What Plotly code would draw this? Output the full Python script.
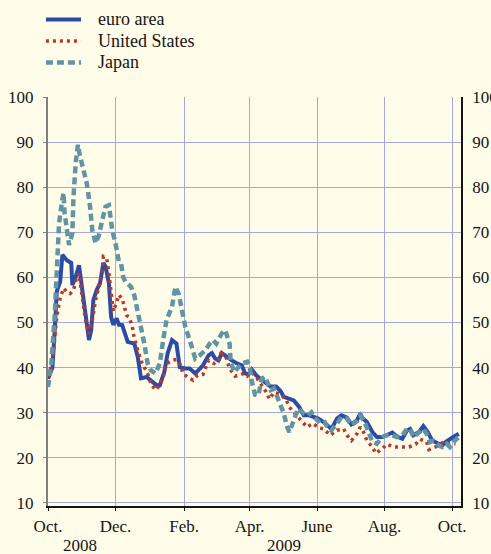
import pandas as pd
import plotly.graph_objects as go

START = "2008-10-01"

# days since 1 Oct 2008 and index values
euro_days = [0, 4, 6, 8, 11, 13, 17, 21, 22, 25, 28, 30, 32, 35, 37, 39, 41, 44, 47, 50, 52, 55, 57, 59, 62, 64, 67,
             72, 78, 81, 84, 89, 93, 98, 101, 105, 108, 112, 116, 119, 124, 128, 133, 137, 140, 145, 148, 151, 154,
             157, 161, 166, 170, 175, 178, 181, 184, 188, 193, 197, 201, 206, 210, 213, 218, 222, 227, 231, 236,
             240, 244, 249, 253, 256, 261, 265, 270, 274, 279, 282, 284, 288, 293, 297, 302, 306, 311, 315, 320,
             324, 327, 330, 335, 339, 343, 347, 352, 356, 359, 363, 366, 371]
euro_vals = [37.5, 40.0, 48.0, 57.0, 59.0, 65.0, 63.8, 63.2, 58.3, 60.1, 62.7, 58.7, 54.3, 49.0, 46.1, 48.3, 55.0,
             57.2, 58.7, 63.2, 62.4, 58.7, 51.2, 49.5, 50.9, 49.5, 49.4, 45.7, 45.3, 42.4, 37.6, 37.9, 37.2, 36.1,
             36.1, 39.0, 43.1, 46.1, 45.3, 40.1, 39.8, 39.8, 38.7, 39.8, 40.5, 42.7, 43.2, 42.0, 41.6, 43.2, 42.4,
             41.6, 41.0, 40.5, 38.7, 38.5, 39.6, 38.3, 37.3, 36.4, 35.8, 35.8, 34.8, 33.5, 33.1, 32.7, 31.2, 29.4,
             29.4, 29.0, 28.7, 27.9, 27.0, 26.4, 28.7, 29.4, 28.9, 27.4, 28.3, 29.8, 28.8, 27.9, 25.7, 24.6, 24.6,
             25.1, 25.6, 24.7, 24.2, 26.0, 26.4, 25.0, 25.7, 27.0, 25.7, 23.8, 23.3, 22.7, 23.5, 24.0, 24.6, 25.3]

us_days = [0, 5, 8, 11, 14, 17, 20, 23, 26, 28, 29, 30, 32, 34, 37, 40, 43, 46, 49, 50, 53, 55, 57, 59, 62, 64,
           67, 69, 71, 73, 76, 77, 81, 85, 90, 93, 97, 101, 104, 107, 112, 116, 119, 122, 126, 131, 135, 140, 143,
           145, 150, 154, 156, 160, 164, 169, 172, 177, 180, 184, 188, 193, 197, 200, 204, 210, 215, 218, 222,
           227, 230, 234, 239, 245, 249, 255, 261, 267, 270, 274, 279, 282, 285, 288, 293, 296, 302, 306, 312,
           320, 326, 332, 336, 342, 344, 350, 356, 362, 368]
us_vals = [36.4, 43.8, 51.5, 55.4, 57.6, 56.8, 56.4, 57.2, 60.1, 60.9, 59.0, 57.2, 53.5, 50.5, 47.5, 50.5, 55.0,
           57.9, 60.9, 64.6, 64.2, 60.9, 55.7, 52.5, 54.5, 56.1, 55.3, 53.5, 51.6, 51.2, 49.4, 47.6, 43.8, 40.9,
           38.7, 36.4, 35.0, 36.1, 37.9, 40.9, 41.6, 41.8, 40.9, 38.7, 37.9, 37.2, 38.3, 38.5, 40.1, 41.6, 40.9,
           41.6, 43.1, 42.9, 39.8, 38.1, 38.3, 38.7, 38.1, 39.0, 37.9, 36.1, 34.6, 33.0, 34.5, 34.1, 32.9, 31.2,
           30.1, 29.0, 27.9, 26.8, 27.6, 26.6, 26.4, 25.0, 26.1, 26.4, 25.0, 23.8, 25.3, 26.8, 25.7, 23.8, 22.4,
           21.0, 22.0, 23.0, 22.4, 22.4, 22.4, 23.0, 24.1, 23.5, 21.8, 22.4, 23.3, 23.1, 23.1]

japan_days = [0, 3, 6, 8, 10, 12, 14, 15, 17, 19, 22, 23, 25, 27, 29, 32, 35, 38, 40, 43, 46, 49, 52, 55, 58, 61,
              64, 66, 68, 70, 75, 78, 81, 84, 87, 90, 93, 97, 101, 104, 107, 112, 115, 118, 121, 124, 128, 131, 133,
              137, 142, 146, 149, 152, 157, 160, 164, 165, 168, 171, 175, 180, 182, 184, 187, 190, 193, 196, 201,
              204, 207, 210, 213, 216, 218, 222, 226, 231, 235, 238, 241, 246, 250, 253, 256, 261, 265, 270, 274,
              279, 282, 286, 289, 293, 297, 302, 306, 311, 315, 320, 324, 327, 330, 335, 339, 342, 345, 348, 353,
              356, 360, 363, 366, 371]
japan_vals = [35.7, 40.9, 51.2, 63.1, 72.0, 75.7, 78.7, 74.2, 71.2, 67.2, 69.8, 77.9, 85.3, 89.4, 86.8, 83.8, 80.9,
              75.7, 70.5, 67.6, 69.4, 72.7, 75.7, 76.0, 70.5, 67.5, 63.5, 63.0, 60.0, 59.0, 57.9, 56.0, 52.7, 49.5,
              45.3, 40.9, 39.4, 38.7, 40.9, 46.1, 50.5, 53.5, 57.9, 56.4, 52.0, 49.0, 46.1, 43.1, 42.0, 42.7, 43.8,
              45.3, 46.1, 45.3, 47.6, 48.3, 45.3, 41.3, 39.0, 39.8, 40.9, 41.3, 40.5, 37.0, 34.0, 33.8, 37.5, 38.0,
              35.0, 35.4, 33.5, 32.0, 29.8, 26.8, 25.7, 28.3, 30.9, 29.8, 29.4, 30.1, 28.9, 27.6, 27.9, 26.4, 26.1,
              27.6, 29.0, 28.7, 27.2, 28.1, 29.4, 27.9, 25.7, 23.5, 23.1, 24.6, 25.0, 25.0, 24.6, 25.0, 26.4, 26.4,
              24.6, 25.7, 26.4, 25.3, 23.5, 23.8, 22.7, 22.4, 23.1, 22.4, 23.5, 24.6]

series_names = ["euro area", "United States", "Japan"]
tick_dates = ["2008-10-01", "2008-12-01", "2009-02-01", "2009-04-01", "2009-06-01", "2009-08-01", "2009-10-01"]
tick_labels = ["Oct.", "Dec.", "Feb.", "Apr.", "June", "Aug.", "Oct."]
year_labels = ["2008", "2009"]
year_label_dates = ["2008-10-30", "2009-05-02"]
y_ticks = [10, 20, 30, 40, 50, 60, 70, 80, 90, 100]


def to_dates(days):
    return [pd.Timestamp(START) + pd.Timedelta(days=d) for d in days]


FONT = "Liberation Serif"
BG = "#fffdea"
GRID = "#a3aae3"
TXT = "#151515"
styles = [dict(color="#2b4ba9", width=4, dash="solid"),
          dict(color="#b7392c", width=3.5, dash="3px,4px"),
          dict(color="#6195a5", width=4.5, dash="7px,4px")]

fig = go.Figure()
for name, days, vals, st in zip(series_names, [euro_days, us_days, japan_days],
                                [euro_vals, us_vals, japan_vals], styles):
    fig.add_trace(go.Scatter(x=to_dates(days), y=vals, mode="lines", name=name, line=st, showlegend=False))
fig.add_trace(go.Scatter(x=to_dates(japan_days), y=japan_vals, yaxis="y2", mode="lines",
                         line=dict(width=0, color="rgba(0,0,0,0)"), showlegend=False, hoverinfo="skip"))

# manual legend (paper coordinates)
legend_rows_y = [1.1895, 1.137, 1.0844]
for name, st, yy in zip(series_names, styles, legend_rows_y):
    fig.add_shape(type="line", xref="paper", yref="paper", x0=-0.005, x1=0.08, y0=yy, y1=yy,
                  line=dict(color=st["color"], width=st["width"], dash=st["dash"]))
    fig.add_annotation(x=0.1162, y=yy, xref="paper", yref="paper", text=name, showarrow=False,
                       xanchor="left", yanchor="middle", font=dict(family=FONT, size=18, color=TXT))

for txt, d in zip(year_labels, year_label_dates):
    fig.add_annotation(x=d, y=-0.097, xref="x", yref="paper", text=txt, showarrow=False,
                       font=dict(family=FONT, size=17, color=TXT), yanchor="middle")

fig.update_layout(
    width=491, height=554,
    paper_bgcolor=BG, plot_bgcolor=BG,
    margin=dict(l=48, r=30, t=97, b=48, autoexpand=False),
    font=dict(family=FONT, size=17, color=TXT),
    showlegend=False,
    xaxis=dict(type="date", range=["2008-10-01", "2009-10-09"], tickvals=tick_dates, ticktext=tick_labels,
               showgrid=True, gridcolor=GRID, gridwidth=1, showline=True, linecolor=TXT, linewidth=1.5,
               ticks="outside", ticklen=3, tickcolor=TXT, zeroline=False, ticklabelstandoff=1),
    yaxis=dict(range=[9.3, 100], tickvals=y_ticks, showgrid=True, gridcolor=GRID, gridwidth=1,
               showline=True, linecolor="#7f7f7f", linewidth=2, ticks="outside", ticklen=3,
               tickcolor="#7f7f7f", zeroline=False, ticklabelstandoff=6),
    yaxis2=dict(range=[9.3, 100], tickvals=y_ticks, overlaying="y", side="right", showgrid=False,
                showline=True, linecolor=TXT, linewidth=1.5, ticks="", zeroline=False,
                ticklabelstandoff=6),
)

fig.write_html("out.html", config={"displayModeBar": False},
               post_script="document.body.style.margin='0';document.body.style.background='%s';" % BG)
